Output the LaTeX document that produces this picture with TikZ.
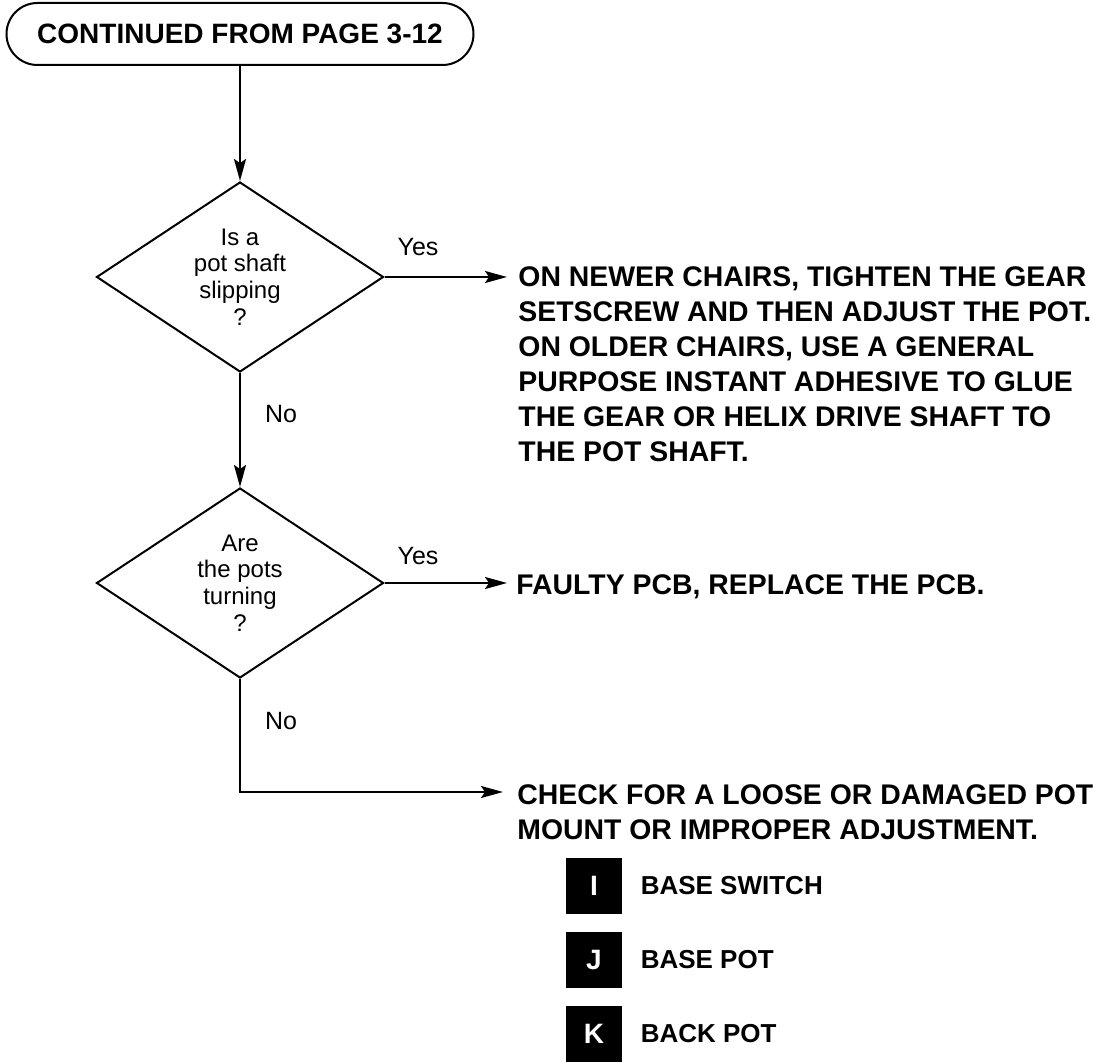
\documentclass[tikz,border=0pt]{standalone}
\usepackage{fontspec}
\setmainfont{Liberation Sans}
\usetikzlibrary{shapes.geometric,arrows.meta,positioning}

\tikzset{
  flow/.style={line width=1pt,-{Stealth[length=11pt,width=6pt,inset=2pt]}},
  startbox/.style={draw,line width=1pt,rounded corners=15.5pt,
    minimum width=233.5pt,minimum height=31pt,
    font=\fontsize{14}{16}\selectfont\bfseries},
  decision/.style={draw,diamond,line width=1pt,align=center,
    minimum width=143.5pt,minimum height=95pt,
    font=\fontsize{12}{13.3}\selectfont},
  stepbox/.style={anchor=base west,align=left,
    font=\fontsize{14.2}{17.5}\selectfont\bfseries},
  answer/.style={font=\fontsize{12.5}{14}\selectfont},
  keybox/.style={fill=black,text=white,minimum size=28pt,
    font=\fontsize{14}{16}\selectfont\bfseries},
  keytext/.style={font=\fontsize{13}{15}\selectfont\bfseries}
}

\begin{document}
\begin{tikzpicture}[x=0.5pt,y=-0.5pt,every node/.style={inner sep=0pt}]
	\useasboundingbox (0,0) rectangle (1093,1063);
	% flow chart
	\node[startbox] (start) at (240,34) {CONTINUED FROM PAGE 3-12};
	\node[decision] (slip) at (240,277) {Is a\\pot shaft\\slipping\\?};
	\node[decision] (turn) at (240,583) {Are\\the pots\\turning\\?};
	\coordinate (fixin) at (507,277);
	\coordinate (pcbin) at (507,583);
	\coordinate (chkin) at (503,792);
	% base west sits on the last line
	\node[stepbox] (fix) at (518,462) {ON NEWER CHAIRS, TIGHTEN THE GEAR\\
		SETSCREW AND THEN ADJUST THE POT.\\
		ON OLDER CHAIRS, USE A GENERAL\\
		PURPOSE INSTANT ADHESIVE TO GLUE\\
		THE GEAR OR HELIX DRIVE SHAFT TO\\
		THE POT SHAFT.};
	\node[stepbox] (pcb) at (516,595) {FAULTY PCB, REPLACE THE PCB.};
	\node[stepbox] (chk) at (517,840) {CHECK FOR A LOOSE OR DAMAGED POT\\
		MOUNT OR IMPROPER ADJUSTMENT.};
	\node[answer] (slipyes) at (418,247) {Yes};
	\node[answer] (slipno) at (281,414) {No};
	\node[answer] (turnyes) at (418,556) {Yes};
	\node[answer] (turnno) at (281,721) {No};
	\draw[flow] (start) -- (slip);
	\draw[flow] (slip) -- (fixin);
	\draw[flow] (slip) -- (turn);
	\draw[flow] (turn) -- (pcbin);
	\draw[flow] (turn.south) |- (chkin);
	% legend
	\foreach \k/\lab [count=\i] in {I/BASE SWITCH, J/BASE POT, K/BACK POT} {
		\node[keybox] (key\k) at (594,812+74*\i) {\k};
		\node[keytext,right=9pt of key\k] (lab\k) {\lab};
	}
\end{tikzpicture}
\end{document}
